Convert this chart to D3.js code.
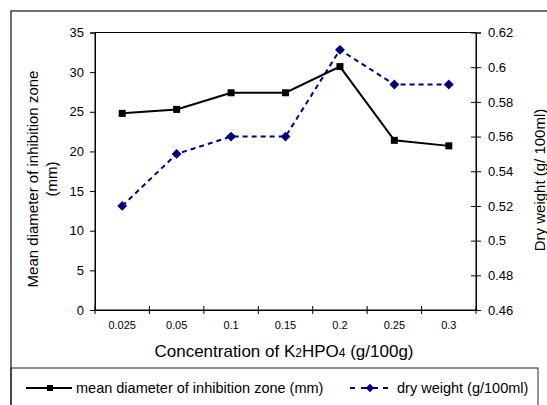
<!DOCTYPE html>
<html>
<head>
<meta charset="utf-8">
<script src="https://cdn.jsdelivr.net/npm/d3@7"></script>
<style>
  html, body { margin: 0; padding: 0; background: #fff; }
  svg { display: block; font-family: "Liberation Sans", Arial, sans-serif; }
</style>
</head>
<body>
<svg id="chart" width="547" height="405"></svg>
<script>
// K2HPO4 concentration levels (g/100g)
const categories = ["0.025", "0.05", "0.1", "0.15", "0.2", "0.25", "0.3"];
// Mean diameter of inhibition zone (mm) – left axis
const inhibitionZone = [24.8, 25.3, 27.4, 27.4, 30.7, 21.4, 20.7];
// Dry weight (g/100ml) – right axis
const dryWeight = [0.52, 0.55, 0.56, 0.56, 0.61, 0.59, 0.59];
// Axis tick labels
const leftTicks = [0, 5, 10, 15, 20, 25, 30, 35];
const rightTicks = ["0.46", "0.48", "0.5", "0.52", "0.54", "0.56", "0.58", "0.6", "0.62"];

const svg = d3.select("#chart");
const plot = { left: 95, right: 476, top: 32.5, bottom: 310 };
const FONT = "Liberation Sans, Arial, sans-serif";

// outer chart frame and legend box
svg.append("rect").attr("x", 11).attr("y", 11).attr("width", 600).attr("height", 500)
  .attr("fill", "none").attr("stroke", "#222").attr("stroke-width", 1.3);
svg.append("rect").attr("x", 11).attr("y", 368).attr("width", 527).attr("height", 100)
  .attr("fill", "none").attr("stroke", "#222").attr("stroke-width", 1);

const x = d3.scaleBand().domain(categories).range([plot.left, plot.right]).padding(0);
const yL = d3.scaleLinear().domain([0, 35]).range([plot.bottom, plot.top]);
const yR = d3.scaleLinear().domain([0.46, 0.62]).range([plot.bottom, plot.top]);
const cx = c => x(c) + x.bandwidth() / 2;

// plot area border
svg.append("rect").attr("x", plot.left).attr("y", plot.top)
  .attr("width", plot.right - plot.left).attr("height", plot.bottom - plot.top)
  .attr("fill", "none").attr("stroke", "#000").attr("stroke-width", 1);

// left axis
const gL = svg.append("g").attr("transform", `translate(${plot.left},0)`)
  .call(d3.axisLeft(yL).tickValues(leftTicks).tickSize(5).tickPadding(6));
gL.selectAll("text").attr("font-size", 13).attr("font-family", FONT).attr("fill", "#000");

// right axis with crossing ticks
const gR = svg.append("g").attr("transform", `translate(${plot.right},0)`)
  .call(d3.axisRight(yR).tickValues(rightTicks.map(Number)).tickFormat((d, i) => rightTicks[i]).tickSize(5).tickPadding(7));
gR.selectAll(".tick line").attr("x1", -5).attr("x2", 5);
gR.selectAll("text").attr("font-size", 13).attr("font-family", FONT).attr("fill", "#000");

// bottom axis: labels centred in each category, ticks on category boundaries
const gB = svg.append("g").attr("transform", `translate(0,${plot.bottom})`)
  .call(d3.axisBottom(x).tickSize(0).tickPadding(11));
gB.selectAll("text").attr("font-size", 11).attr("font-family", FONT).attr("fill", "#000");
const bounds = categories.map(c => x(c)).concat([plot.right]);
gB.selectAll(".bound").data(bounds).enter().append("line")
  .attr("x1", d => d).attr("x2", d => d).attr("y1", -4).attr("y2", 4)
  .attr("stroke", "#000");
svg.selectAll(".domain").attr("stroke", "#000");

// axis titles
const xt = svg.append("text").attr("x", 284).attr("y", 357).attr("text-anchor", "middle")
  .attr("font-size", 17);
xt.append("tspan").text("Concentration of K");
xt.append("tspan").attr("font-size", 12).text("2");
xt.append("tspan").text("HPO");
xt.append("tspan").attr("font-size", 12).text("4");
xt.append("tspan").text(" (g/100g)");

const lt = svg.append("text").attr("transform", `translate(38,179) rotate(-90)`)
  .attr("text-anchor", "middle").attr("font-size", 15);
lt.append("tspan").attr("x", 0).attr("dy", 0).text("Mean diameter of inhibition zone");
lt.append("tspan").attr("x", 0).attr("dy", 19).text("(mm)");

svg.append("text").attr("transform", `translate(545,180) rotate(-90)`)
  .attr("text-anchor", "middle").attr("font-size", 15).text("Dry weight (g/ 100ml)");

// series lines
const lineL = d3.line().x((d, i) => cx(categories[i])).y(d => yL(d));
const lineR = d3.line().x((d, i) => cx(categories[i])).y(d => yR(d));

svg.append("path").attr("d", lineR(dryWeight)).attr("fill", "none")
  .attr("stroke", "#000080").attr("stroke-width", 2).attr("stroke-dasharray", "5,4");
svg.append("path").attr("d", lineL(inhibitionZone)).attr("fill", "none")
  .attr("stroke", "#000").attr("stroke-width", 2);

// markers
const diamond = d3.symbol().type(d3.symbolDiamond2).size(62);
svg.selectAll(".dw").data(dryWeight).enter().append("path")
  .attr("d", diamond())
  .attr("transform", (d, i) => `translate(${cx(categories[i])},${yR(d)})`)
  .attr("fill", "#000080");
svg.selectAll(".iz").data(inhibitionZone).enter().append("rect")
  .attr("x", (d, i) => cx(categories[i]) - 3.5).attr("y", d => yL(d) - 3.5)
  .attr("width", 7).attr("height", 7).attr("fill", "#000");

// legend
const ly = 388;
const leg = svg.append("g");
leg.append("line").attr("x1", 26).attr("x2", 72).attr("y1", ly).attr("y2", ly)
  .attr("stroke", "#000").attr("stroke-width", 2);
leg.append("rect").attr("x", 47).attr("y", ly - 3).attr("width", 6).attr("height", 6).attr("fill", "#000");
leg.append("text").attr("x", 76).attr("y", ly + 5).attr("font-size", 14.5).text("mean diameter of inhibition zone (mm)");
leg.append("line").attr("x1", 350).attr("x2", 390).attr("y1", ly).attr("y2", ly)
  .attr("stroke", "#000080").attr("stroke-width", 2).attr("stroke-dasharray", "5,6");
leg.append("path").attr("d", d3.symbol().type(d3.symbolDiamond2).size(45)())
  .attr("transform", `translate(370,${ly})`).attr("fill", "#000080");
leg.append("line").attr("x1", 362).attr("x2", 378).attr("y1", ly).attr("y2", ly)
  .attr("stroke", "#000080").attr("stroke-width", 2);
leg.append("text").attr("x", 397).attr("y", ly + 5).attr("font-size", 14.5).text("dry weight (g/100ml)");
</script>
</body>
</html>
